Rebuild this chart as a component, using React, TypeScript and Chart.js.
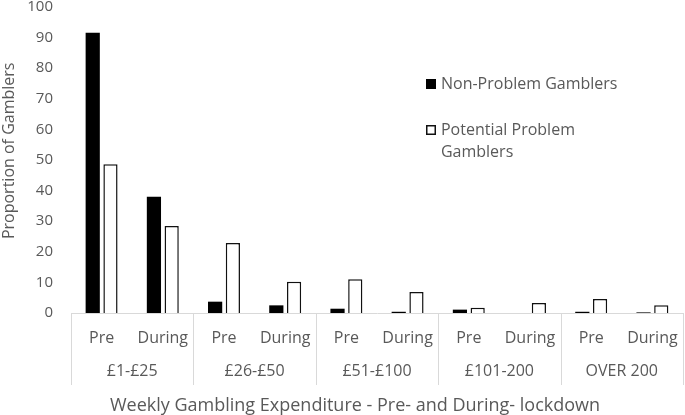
import React, { useEffect, useRef } from "react";
import { Chart, registerables } from "chart.js";

Chart.register(...registerables);

const categories = ["Pre", "During", "Pre", "During", "Pre", "During", "Pre", "During", "Pre", "During"];
const groups = ["£1-£25", "£26-£50", "£51-£100", "£101-200", "OVER 200"];
const nonProblem = [91.6, 38.0, 3.7, 2.5, 1.4, 0.4, 1.1, 0, 0.4, 0.2];
const potentialProblem = [48.6, 28.4, 22.9, 10.2, 11.0, 6.9, 1.7, 3.3, 4.6, 2.5];
const seriesNames = ["Non-Problem Gamblers", "Potential Problem Gamblers"];
const legendLines = [["Non-Problem Gamblers"], ["Potential Problem", "Gamblers"]];
const yTitle = "Proportion of Gamblers";
const xTitle = "Weekly Gambling Expenditure - Pre- and During- lockdown";

const TEXT = "#595959";
const LINE = "#d9d9d9";
const FONT = "'Open Sans', sans-serif";

const axisDecor = {
  id: "axisDecor",
  afterDraw(chart: any) {
    const { ctx, chartArea } = chart;
    const x2 = chart.scales.x2;
    const n = groups.length;
    ctx.save();
    ctx.strokeStyle = LINE;
    ctx.lineWidth = 1;
    for (let i = 0; i <= n; i++) {
      const px = Math.round(x2.left + (i * x2.width) / n) + 0.5;
      ctx.beginPath();
      ctx.moveTo(px, chartArea.bottom);
      ctx.lineTo(px, x2.top + 32);
      ctx.stroke();
    }
    ctx.fillStyle = TEXT;
    ctx.textAlign = "center";
    ctx.textBaseline = "middle";
    // x axis title, centred over the value-label column plus plot area
    const labelLeft = chartArea.left - 44;
    ctx.font = `18px ${FONT}`;
    ctx.fillText(xTitle, (labelLeft + chartArea.right) / 2, x2.bottom - 9.5);
    // y axis title
    ctx.font = `16px ${FONT}`;
    ctx.translate(9.5, chartArea.top + chartArea.height * 0.47);
    ctx.rotate(-Math.PI / 2);
    ctx.fillText(yTitle, 0, 0);
    ctx.restore();
  },
};

const customLegend = {
  id: "customLegend",
  afterDraw(chart: any) {
    const { ctx, chartArea: a } = chart;
    const x0 = a.left + a.width * 0.58;
    const ys = [a.top + a.height * 0.252, a.top + a.height * 0.402];
    const lineH = 22;
    ctx.save();
    ctx.font = `16px ${FONT}`;
    ctx.textBaseline = "middle";
    ctx.textAlign = "left";
    legendLines.forEach((lines, i) => {
      const ds = chart.data.datasets[i];
      const y = ys[i];
      const bx = Math.round(x0);
      const by = Math.round(y - 5);
      ctx.fillStyle = ds.backgroundColor;
      ctx.fillRect(bx, by, 10, 10);
      if (ds.borderWidth) {
        ctx.strokeStyle = ds.borderColor;
        ctx.lineWidth = 1.5;
        ctx.strokeRect(bx + 0.75, by + 0.75, 8.5, 8.5);
      }
      ctx.fillStyle = TEXT;
      lines.forEach((t, j) => ctx.fillText(t, x0 + 15, y + j * lineH));
    });
    ctx.restore();
  },
};

export default function App() {
  const ref = useRef<HTMLCanvasElement | null>(null);
  useEffect(() => {
    if (!ref.current) return;
    const chart = new Chart(ref.current, {
      type: "bar",
      data: {
        labels: categories,
        datasets: [
          {
            label: seriesNames[0],
            data: nonProblem,
            backgroundColor: "#000000",
            borderColor: "#000000",
            borderWidth: 0,
            categoryPercentage: 0.58,
            barPercentage: 0.8,
          },
          {
            label: seriesNames[1],
            data: potentialProblem,
            backgroundColor: "#ffffff",
            borderColor: "#111111",
            borderWidth: 1.5,
            categoryPercentage: 0.58,
            barPercentage: 0.8,
          },
        ],
      },
      options: {
        animation: false,
        responsive: false,
        maintainAspectRatio: false,
        layout: { padding: { top: 0, right: 2, left: 0, bottom: 0 } },
        plugins: {
          legend: { display: false },
          tooltip: { enabled: false },
        },
        scales: {
          y: {
            min: 0,
            max: 100,
            ticks: { stepSize: 10, color: TEXT, font: { family: FONT, size: 15 }, padding: 18 },
            grid: { display: false, drawTicks: false },
            border: { display: false },
            afterFit: (s: any) => {
              s.width = 71;
              s.paddingTop = 7;
              s.paddingBottom = 0;
            },
          },
          x: {
            position: "bottom",
            ticks: { color: TEXT, font: { family: FONT, size: 16 }, padding: 16, autoSkip: false, maxRotation: 0 },
            grid: { display: false, drawTicks: false },
            border: { display: true, color: LINE, width: 1 },
            afterFit: (s: any) => {
              s.height = 40;
              s.paddingLeft = 0;
              s.paddingRight = 0;
            },
          },
          x2: {
            type: "category",
            position: "bottom",
            labels: groups,
            offset: true,
            ticks: { color: TEXT, font: { family: FONT, size: 16 }, padding: 9, autoSkip: false, maxRotation: 0 },
            grid: { display: false, drawTicks: false },
            border: { display: false },
            afterFit: (s: any) => {
              s.height = 62;
              s.paddingLeft = 0;
              s.paddingRight = 0;
            },
          },
        },
      },
      plugins: [axisDecor, customLegend],
    } as any);
    return () => chart.destroy();
  }, []);
  return (
    <div style={{ position: "fixed", left: 0, top: 0, width: 685, height: 415, background: "#fff" }}>
      <canvas ref={ref} width={685} height={415} style={{ width: 685, height: 415 }} />
    </div>
  );
}
